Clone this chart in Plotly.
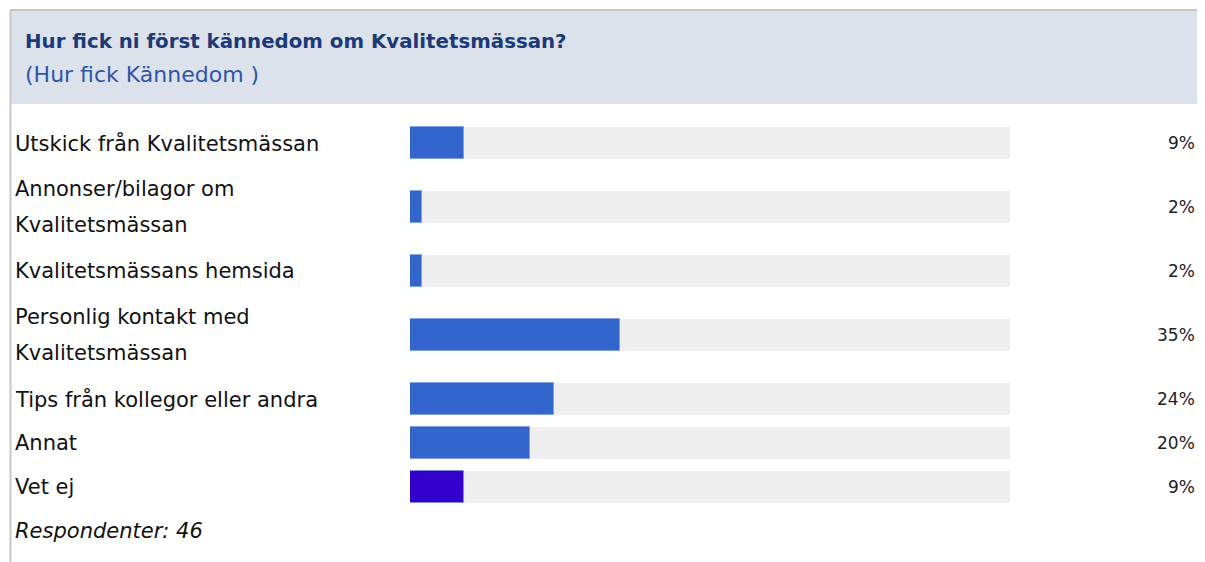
import plotly.graph_objects as go

title = "Hur fick ni först kännedom om Kvalitetsmässan?"
subtitle = "(Hur fick Kännedom )"
categories = [
    ["Utskick från Kvalitetsmässan"],
    ["Annonser/bilagor om", "Kvalitetsmässan"],
    ["Kvalitetsmässans hemsida"],
    ["Personlig kontakt med", "Kvalitetsmässan"],
    ["Tips från kollegor eller andra"],
    ["Annat"],
    ["Vet ej"],
]
values = [9, 2, 2, 35, 24, 20, 9]
value_labels = ["9%", "2%", "2%", "35%", "24%", "20%", "9%"]
bar_colors = ["#3366cc"] * 6 + ["#3300cc"]
respondents = "Respondenter: 46"

# page geometry: the page body has an 8px margin, so the figure is shrunk/offset
WIN_W, WIN_H = 1205, 562
OFF = 8
W, H = WIN_W - OFF, WIN_H - OFF

# layout constants (window pixels)
UNIT = 40.0          # one text line of a row, px
PAD = 0.1            # extra row padding in units
TOP = 121.0 - OFF    # top of first row, figure px
BAR_W = 0.8          # bar thickness in units
LINE_GAP = 0.45      # offset of lines in two-line labels, units

def py(p):
    return 1 - (p - OFF) / H

def px(p):
    return (p - OFF) / W

# row centers computed from number of label lines
centers = []
acc = 0.0
for lab in categories:
    h = len(lab) + PAD
    centers.append(acc + h / 2)
    acc += h
resp_center = acc + (1 + PAD) / 2

fig = go.Figure()
fig.add_trace(go.Bar(
    x=[100] * len(values), y=centers, orientation="h", width=BAR_W,
    marker=dict(color="#eeeeee", line=dict(width=0)), hoverinfo="skip",
))
fig.add_trace(go.Bar(
    x=values, y=centers, orientation="h", width=BAR_W,
    marker=dict(color=bar_colors, line=dict(width=1, color="rgba(120,150,230,0.6)")),
))

font_main = "DejaVu Sans, Verdana, Tahoma, sans-serif"
ann = []
for lab, c, vl in zip(categories, centers, value_labels):
    n = len(lab)
    for i, line in enumerate(lab):
        off = (i - (n - 1) / 2) * 2 * LINE_GAP
        ann.append(dict(text=line, xref="paper", yref="y", x=px(13), y=c + off,
                        xanchor="left", yanchor="middle", showarrow=False,
                        font=dict(family=font_main, size=21, color="#111111")))
    ann.append(dict(text=vl, xref="paper", yref="y", x=px(1197), y=c,
                    xanchor="right", yanchor="middle", showarrow=False,
                    font=dict(family=font_main, size=17, color="#222222")))
ann.append(dict(text="<i>" + respondents + "</i>", xref="paper", yref="y", x=px(13), y=resp_center,
                xanchor="left", yanchor="middle", showarrow=False,
                font=dict(family=font_main, size=21, color="#111111")))
ann.append(dict(text="<b>" + title + "</b>", xref="paper", yref="paper", x=px(23), y=py(42),
                xanchor="left", yanchor="middle", showarrow=False,
                font=dict(family=font_main, size=19.8, color="#1c3a78")))
ann.append(dict(text=subtitle, xref="paper", yref="paper", x=px(23), y=py(75),
                xanchor="left", yanchor="middle", showarrow=False,
                font=dict(family=font_main, size=22, color="#2f56a6")))

shapes = [
    dict(type="rect", xref="paper", yref="paper", x0=px(10), x1=1,
         y0=py(104), y1=py(10), fillcolor="#dbe2ec", line=dict(width=0), layer="below"),
    dict(type="line", xref="paper", yref="paper", x0=px(10), x1=1,
         y0=py(10), y1=py(10), line=dict(color="#c4c4c4", width=2)),
    dict(type="line", xref="paper", yref="paper", x0=px(10.5), x1=px(10.5),
         y0=0, y1=py(10), line=dict(color="#c8c8c8", width=2)),
]

fig.update_layout(
    width=W, height=H, margin=dict(l=0, r=0, t=0, b=0),
    paper_bgcolor="white", plot_bgcolor="rgba(0,0,0,0)",
    barmode="overlay", showlegend=False, bargap=0,
    annotations=ann, shapes=shapes,
    xaxis=dict(domain=[px(410), px(1010)], range=[0, 100], visible=False, fixedrange=True),
    yaxis=dict(domain=[0, 1], range=[(H - TOP) / UNIT, -TOP / UNIT], visible=False, fixedrange=True),
)

fig.write_html("out.html")
